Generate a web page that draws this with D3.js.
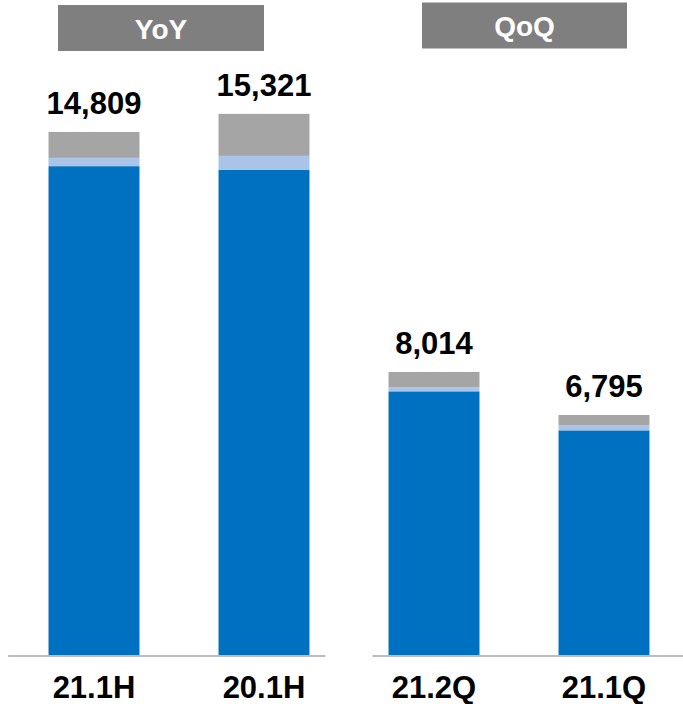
<!DOCTYPE html>
<html>
<head>
<meta charset="utf-8">
<script src="https://cdn.jsdelivr.net/npm/d3@7"></script>
<style>
  body { margin: 0; background: #fff; }
  text { font-family: "Liberation Sans", Arial, sans-serif; font-weight: bold; }
</style>
</head>
<body>
<svg id="chart"></svg>
<script>
// values
const categories = ["21.1H", "20.1H", "21.2Q", "21.1Q"];
const mainPart   = [13840, 13735, 7465, 6360];
const lightPart  = [235, 396, 115, 143];
const greyPart   = [734, 1190, 434, 292];
const totals     = [14809, 15321, 8014, 6795];
const groupNames = ["YoY", "QoQ"];

const width = 683, height = 704;
const baseY = 655;

const svg = d3.select("#chart")
    .attr("width", width)
    .attr("height", height);

const xScale = d3.scaleBand()
    .domain(categories)
    .range([9, 689])
    .paddingInner(0.465)
    .paddingOuter(0.2325);

const yScale = d3.scaleLinear()
    .domain([0, 16000])
    .range([baseY, baseY - 16000 * 0.03532]);

const colors = ["#0070C0", "#A9C4E7", "#A5A5A5"];
const keys = ["main", "light", "grey"];

const rows = categories.map((c, i) => ({
    cat: c, main: mainPart[i], light: lightPart[i], grey: greyPart[i], total: totals[i]
}));

const stack = d3.stack().keys(keys);
const series = stack(rows);

const bw = xScale.bandwidth();

// baselines, one per group
const axisLines = [
    [xScale(categories[0]) - 40.5, xScale(categories[1]) + bw + 16],
    [xScale(categories[2]) - 16, width]
];
svg.selectAll(".base")
    .data(axisLines)
    .enter().append("line")
    .attr("class", "base")
    .attr("x1", d => d[0])
    .attr("x2", d => d[1])
    .attr("y1", baseY + 1)
    .attr("y2", baseY + 1)
    .attr("stroke", "#BDBDBD")
    .attr("stroke-width", 2);

svg.selectAll(".layer")
    .data(series)
    .enter().append("g")
    .attr("class", "layer")
    .attr("fill", (d, i) => colors[i])
    .selectAll("rect")
    .data(d => d)
    .enter().append("rect")
    .attr("x", d => xScale(d.data.cat))
    .attr("width", bw)
    .attr("y", d => yScale(d[1]))
    .attr("height", d => yScale(d[0]) - yScale(d[1]));

// value labels
svg.selectAll(".total")
    .data(rows)
    .enter().append("text")
    .attr("class", "total")
    .attr("x", d => xScale(d.cat) + bw / 2)
    .attr("y", d => yScale(d.total) - 18)
    .attr("text-anchor", "middle")
    .style("font-size", "31px")
    .attr("fill", "#000")
    .text(d => d3.format(",")(d.total));

// category labels
svg.selectAll(".cat")
    .data(categories)
    .enter().append("text")
    .attr("class", "cat")
    .attr("x", d => xScale(d) + bw / 2)
    .attr("y", 698)
    .attr("text-anchor", "middle")
    .style("font-size", "31px")
    .attr("fill", "#000")
    .text(d => d);

// group header boxes
const headerBoxes = [
    { x: 58, y: 5, w: 206, h: 46 },
    { x: 422, y: 2.5, w: 205, h: 46 }
];
const headers = svg.selectAll(".header")
    .data(groupNames)
    .enter().append("g")
    .attr("class", "header");

headers.append("rect")
    .attr("x", (d, i) => headerBoxes[i].x)
    .attr("y", (d, i) => headerBoxes[i].y)
    .attr("width", (d, i) => headerBoxes[i].w)
    .attr("height", (d, i) => headerBoxes[i].h)
    .attr("fill", "#7F7F7F");

headers.append("text")
    .attr("x", (d, i) => headerBoxes[i].x + headerBoxes[i].w / 2)
    .attr("y", (d, i) => headerBoxes[i].y + 33.5)
    .attr("text-anchor", "middle")
    .style("font-size", "28px")
    .attr("fill", "#fff")
    .text(d => d);
</script>
</body>
</html>
